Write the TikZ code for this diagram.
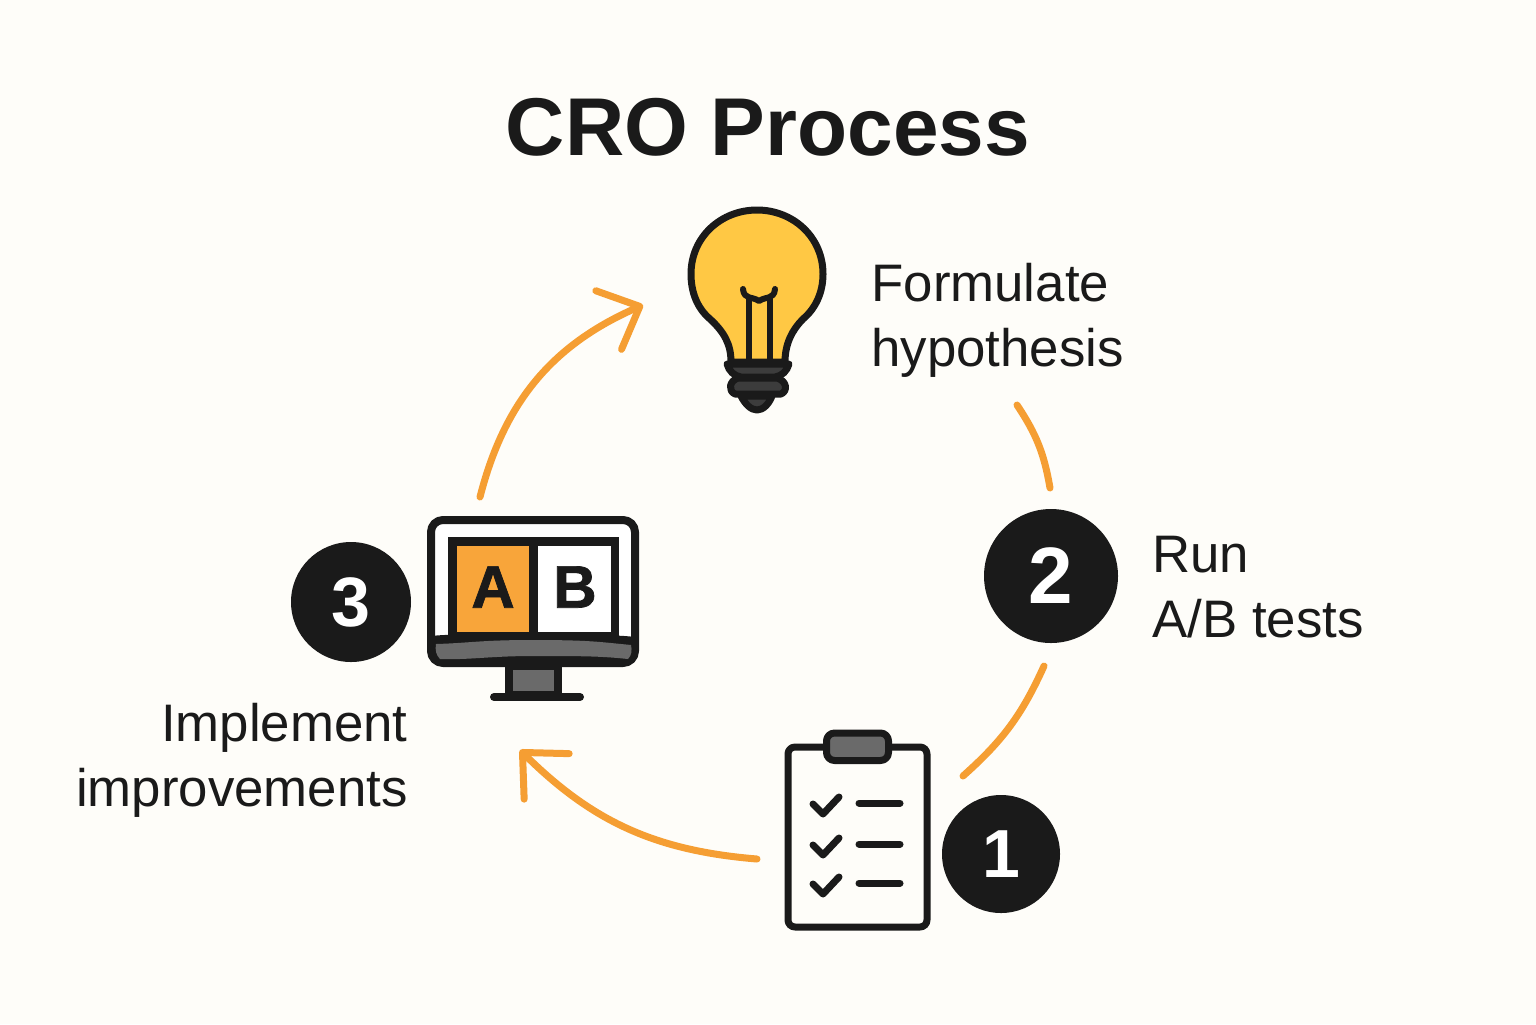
\documentclass[tikz,border=0pt]{standalone}
\usepackage{fontspec}
\setmainfont{Liberation Sans}
\newfontfamily\heavyfont[FakeBold=1.2]{Liberation Sans Bold}
\usetikzlibrary{arrows.meta}
\definecolor{paper}{HTML}{FEFDF9}
\definecolor{ink}{HTML}{1A1A1A}
\definecolor{flowc}{HTML}{F59E33}
\definecolor{bulbc}{HTML}{FFC844}
\definecolor{tabc}{HTML}{F8A53A}
\definecolor{metal}{HTML}{3C3C3C}
\definecolor{slate}{HTML}{6A6A6A}
\tikzstyle{heading} = [font=\fontsize{41}{46}\selectfont\bfseries, text=ink, inner sep=0pt]
\tikzstyle{caption} = [font=\fontsize{26.4}{32.5}\selectfont, text=ink, inner sep=0pt]
\tikzstyle{badge} = [circle, fill=ink, text=white, font=\bfseries, inner sep=0pt]
\tikzstyle{letter} = [font=\fontsize{30}{30}\selectfont\heavyfont, text=ink, inner sep=0pt]
\tikzstyle{flow} = [draw=flowc, line width=3.5pt, line cap=round, bend left=12]
\tikzstyle{arrow} = [flow, -{Straight Barb[round, length=17pt, width=32pt]}]
\tikzstyle{icon} = [draw=ink, line width=3.5pt, line join=round]
\tikzstyle{stroke} = [draw=ink, line width=3pt, line cap=round, line join=round]

\begin{document}
\begin{tikzpicture}[x=0.5pt, y=-0.5pt]
		\fill[paper] (0,0) rectangle (1536,1024);
		\useasboundingbox (0,0) rectangle (1536,1024);
		% Nodes
		\node (title) [heading] at (768,127) {CRO Process};
		\node (formulate) [caption, anchor=west, align=left] at (871,320) {Formulate\\hypothesis};
		\node (badge2) [badge, minimum size=67pt, font=\fontsize{40}{40}\selectfont\bfseries] at (1051,576) {\raisebox{-1pt}{2}};
		\node (run) [caption, anchor=west, align=left] at (1152,587) {Run\\A/B tests};
		\node (badge1) [badge, minimum size=59pt, font=\fontsize{34}{34}\selectfont\bfseries] at (1001,854) {\raisebox{-1pt}{1}};
		\node (badge3) [badge, minimum size=60pt, font=\fontsize{35}{35}\selectfont\bfseries] at (351,602) {3};
		\node (implement) [caption, anchor=east, align=right] at (408,760) {Implement\\improvements};
		% Bulb
		\draw[icon, fill=bulbc] (731,362) .. controls (731,344) and (724,332) .. (710,319) .. controls (697,308) and (691,292) .. (691,274) .. controls (691,237) and (721,210) .. (757,210) .. controls (793,210) and (823,237) .. (823,274) .. controls (823,292) and (816,308) .. (803,319) .. controls (792,330) and (785,344) .. (785,362) -- cycle;
		\draw[stroke] (749,362) -- (749,298) (770,362) -- (770,298);
		\draw[stroke] (743,289) .. controls (744,300) and (752,296) .. (759,301) .. controls (766,296) and (774,300) .. (775,289);
		\draw[icon, fill=metal] (727,364) -- (789,364) .. controls (787,371) and (782,376) .. (775,377) -- (741,377) .. controls (734,376) and (729,371) .. (727,364) -- cycle;
		\draw[icon, fill=metal] (738,378) -- (777,378) .. controls (787,381) and (788,391) .. (781,394) -- (735,394) .. controls (728,391) and (729,381) .. (738,378) -- cycle;
		\draw[icon, fill=metal] (741,396) -- (772,396) .. controls (769,404) and (763,410) .. (757,410) .. controls (751,410) and (745,404) .. (741,396) -- cycle;
		% Monitor
		\draw[icon, line width=4pt, fill=white, rounded corners=6pt] (431,520) rectangle (635,663);
		\fill[ink] (448,537) rectangle (619,640);
		\fill[tabc] (457,546) rectangle (529,632);
		\fill[white] (538,546) rectangle (611,632);
		\node (tabA) [letter] at (493,587) {A};
		\node (tabB) [letter] at (575,587) {B};
		\fill[ink] (431,636) .. controls (460,633) and (480,636) .. (533,636) .. controls (590,636) and (610,634) .. (635,637) -- (635,660) -- (431,660) -- cycle;
		\fill[slate] (436,644) .. controls (470,643) and (480,640) .. (533,640) .. controls (590,640) and (600,642) .. (631,645) .. controls (632,650) and (632,655) .. (628,659) .. controls (600,656) and (580,656) .. (533,656) .. controls (490,656) and (470,660) .. (440,659) .. controls (436,655) and (435,650) .. (436,644) -- cycle;
		\draw[icon, line width=4pt, fill=slate] (509,666) rectangle (558,695);
		\draw[ink, line width=4pt, line cap=round] (494,697) -- (580,697);
		% Clipboard
		\draw[icon, fill=paper, rounded corners=3.5pt] (788,747) rectangle (927,927);
		\draw[icon, fill=slate, rounded corners=4pt] (826.5,733) rectangle (888.5,760.5);
		\foreach \y/\z in {803/0, 844/41, 883/80} {
			\draw[stroke, line width=3.5pt] (859,\y) -- (900,\y);
			\draw[stroke, line width=3.5pt] (813,804+\z) -- (823,814+\z) -- (839,797+\z);
		}
		% Arrows
		\coordinate (listout) at (757,859);
		\coordinate (monitorin) at (520,750);
		\coordinate (monitorout) at (480,497);
		\coordinate (bulbin) at (643,305);
		\coordinate (bulbout) at (1017,405);
		\coordinate (badge2in) at (1050,488);
		\coordinate (badge2out) at (1044,666);
		\coordinate (listin) at (963,776);
		\draw [arrow, bend left=20] (listout) to (monitorin);
		\draw [arrow, bend left=26] (monitorout) to (bulbin);
		\draw [flow] (bulbout) to (badge2in);
		\draw [flow] (badge2out) to (listin);
	\end{tikzpicture}
\end{document}
